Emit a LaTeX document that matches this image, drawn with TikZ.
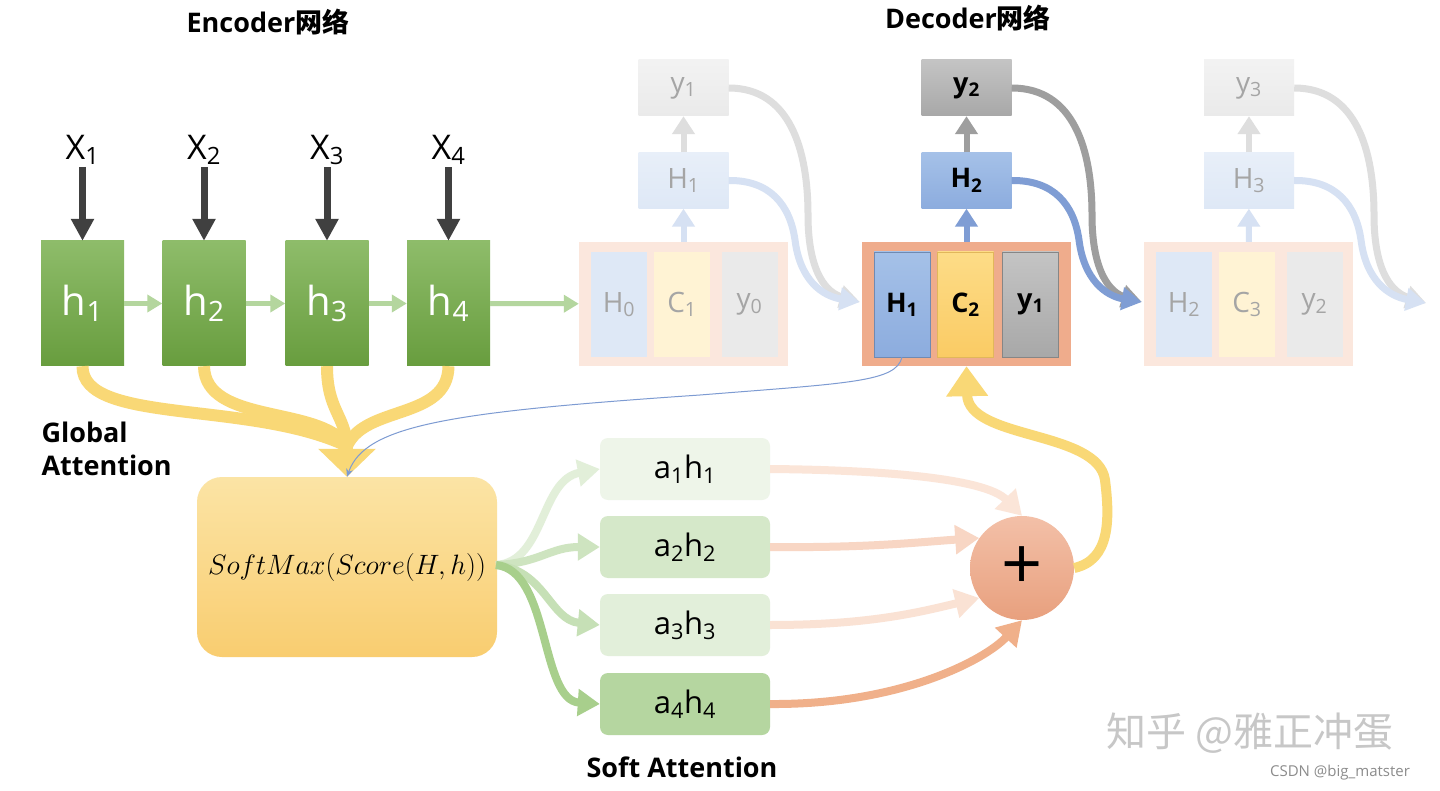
\RequirePackage{fix-cm}
\documentclass[tikz,border=0pt]{standalone}
\usepackage{fontspec}
\setmainfont{Open Sans}
\newfontfamily\cjk{Noto Sans CJK SC}
\usetikzlibrary{arrows.meta}
\definecolor{encTop}{RGB}{142,188,106}
\definecolor{encBot}{RGB}{104,157,62}
\definecolor{darkarr}{RGB}{64,64,64}
\definecolor{chaingreen}{RGB}{180,214,158}
\definecolor{fadetext}{RGB}{165,165,165}
\definecolor{outFade}{RGB}{251,231,221}
\definecolor{outAct}{RGB}{239,172,140}
\definecolor{blueFade}{RGB}{222,232,246}
\definecolor{yellFade}{RGB}{255,243,212}
\definecolor{grayFade}{RGB}{234,234,234}
\definecolor{blueTop}{RGB}{165,193,232}
\definecolor{blueBot}{RGB}{140,172,222}
\definecolor{yellTop}{RGB}{253,220,135}
\definecolor{yellBot}{RGB}{250,203,100}
\definecolor{grayTop}{RGB}{196,196,196}
\definecolor{grayBot}{RGB}{168,168,168}
\definecolor{arrBlueFade}{RGB}{214,225,243}
\definecolor{arrGrayFade}{RGB}{222,222,222}
\definecolor{arrBlue}{RGB}{127,157,212}
\definecolor{arrGray}{RGB}{158,158,158}
\definecolor{gold}{RGB}{249,216,118}
\definecolor{smTop}{RGB}{251,228,165}
\definecolor{smBot}{RGB}{249,205,112}
\definecolor{thinblue}{RGB}{125,155,210}
\definecolor{att1}{RGB}{238,245,233}
\definecolor{att2}{RGB}{213,232,201}
\definecolor{att3}{RGB}{226,239,218}
\definecolor{att4}{RGB}{181,214,160}
\definecolor{g1}{RGB}{226,239,217}
\definecolor{g2}{RGB}{206,228,192}
\definecolor{g3}{RGB}{198,224,182}
\definecolor{g4}{RGB}{168,207,140}
\definecolor{o1}{RGB}{251,229,216}
\definecolor{o2}{RGB}{248,214,196}
\definecolor{o3}{RGB}{250,226,212}
\definecolor{o4}{RGB}{240,176,138}
\definecolor{plusTop}{RGB}{243,192,168}
\definecolor{plusBot}{RGB}{232,160,126}
\tikzset{
  title/.style={font=\bfseries\fontsize{27}{27}\selectfont},
  encbox/.style={rectangle, minimum width=83pt, minimum height=125pt, inner sep=0pt,
    top color=encTop, bottom color=encBot, text=white, font=\fontsize{40}{40}\selectfont},
  xlab/.style={font=\fontsize{34}{34}\selectfont, inner sep=2pt},
  inarrow/.style={draw=darkarr, line width=7pt, -{Triangle[width=22pt,length=22pt]}},
  chainarrow/.style={draw=chaingreen, line width=5pt, -{Triangle[width=17pt,length=15pt]}},
  bigbox/.style={rectangle, minimum width=209pt, minimum height=124pt, inner sep=0pt},
  cell/.style={rectangle, minimum width=56pt, minimum height=105pt, inner sep=0pt,
    font=\fontsize{28}{28}\selectfont},
  upbox/.style={rectangle, minimum width=90pt, minimum height=56pt, inner sep=0pt,
    font=\fontsize{28}{28}\selectfont},
  actfont/.style={font=\bfseries\fontsize{27}{27}\selectfont},
  uparrow/.style={line width=6pt, -{Triangle[width=22pt,length=18pt]}},
  curvearrow/.style={line width=7pt, -{Triangle[width=22pt,length=20pt]}},
  attbox/.style={rectangle, rounded corners=8pt, minimum width=170pt, minimum height=62pt,
    inner sep=0pt, font=\fontsize{31}{31}\selectfont},
  fanarrow/.style={line width=8pt, -{Triangle[width=26pt,length=22pt]}},
  sumarrow/.style={line width=8pt, -{Triangle[width=28pt,length=24pt]}},
  boldlabel/.style={font=\bfseries\fontsize{27}{33}\selectfont},
}
\begin{document}
\begin{tikzpicture}[x=1pt,y=-1pt]
\useasboundingbox[fill=white] (0,0) rectangle (1440,791);

% titles
\node[title] (enct) at (268,22) {Encoder{\cjk 网络}};
\node[title] (dect) at (968,18) {Decoder{\cjk 网络}};

% encoder
\foreach \i/\x in {1/82.5,2/204,3/327,4/448.5}{
  \node[encbox] (h\i) at (\x,303.5) {h\textsubscript{\i}};
  \node[xlab] (x\i) at (\x,150) {X\textsubscript{\i}};
  \draw[inarrow] (x\i) -- (h\i);
}

% decoder step 1 (faded)
\node[bigbox, fill=outFade] (d1) at (683.5,304) {};
\node[cell, fill=blueFade, text=fadetext] (d1a) at (619,304.5) {H\textsubscript{0}};
\node[cell, fill=yellFade, text=fadetext] (d1b) at (682,304.5) {C\textsubscript{1}};
\node[cell, fill=grayFade, text=fadetext] (d1c) at (749.5,304.5) {y\textsubscript{0}};
\node[upbox, top color=blueFade!70!white, bottom color=blueFade, text=fadetext] (u1H) at (683.5,180.5) {H\textsubscript{1}};
\node[upbox, top color=grayFade!60!white, bottom color=grayFade, text=fadetext] (u1y) at (683.5,88) {y\textsubscript{1}};

% decoder step 2 (active)
\node[bigbox, fill=outAct] (d2) at (966.5,304) {};
\node[cell, top color=blueTop, bottom color=blueBot, draw=blueBot!80!black, actfont] (d2a) at (902,304.5) {H\textsubscript{1}};
\node[cell, top color=yellTop, bottom color=yellBot, draw=yellBot!90!black, actfont] (d2b) at (965.5,304.5) {C\textsubscript{2}};
\node[cell, top color=grayTop, bottom color=grayBot, draw=grayBot!80!black, actfont] (d2c) at (1030.5,304.5) {y\textsubscript{1}};
\node[upbox, top color=blueTop, bottom color=blueBot, actfont] (u2H) at (966.5,180.5) {H\textsubscript{2}};
\node[upbox, top color=grayTop, bottom color=grayBot, actfont] (u2y) at (966.5,88) {y\textsubscript{2}};

% decoder step 3 (faded)
\node[bigbox, fill=outFade] (d3) at (1248.5,304) {};
\node[cell, fill=blueFade, text=fadetext] (d3a) at (1184,304.5) {H\textsubscript{2}};
\node[cell, fill=yellFade, text=fadetext] (d3b) at (1247,304.5) {C\textsubscript{3}};
\node[cell, fill=grayFade, text=fadetext] (d3c) at (1314.5,304.5) {y\textsubscript{2}};
\node[upbox, top color=blueFade!70!white, bottom color=blueFade, text=fadetext] (u3H) at (1249,180.5) {H\textsubscript{3}};
\node[upbox, top color=grayFade!60!white, bottom color=grayFade, text=fadetext] (u3y) at (1249,88) {y\textsubscript{3}};
\coordinate (end3) at (1426,303);

% chain arrows
\draw[chainarrow] (h1) -- (h2);
\draw[chainarrow] (h2) -- (h3);
\draw[chainarrow] (h3) -- (h4);
\draw[chainarrow] (h4) -- (d1);

% up arrows
\draw[uparrow, draw=arrBlueFade] (d1) -- (u1H);
\draw[uparrow, draw=arrGrayFade] (u1H) -- (u1y);
\draw[uparrow, draw=arrBlue] (d2) -- (u2H);
\draw[uparrow, draw=arrGray] (u2H) -- (u2y);
\draw[uparrow, draw=arrBlueFade] (d3) -- (u3H);
\draw[uparrow, draw=arrGrayFade] (u3H) -- (u3y);

% recurrent curves
\draw[curvearrow, draw=arrGrayFade] (u1y.east) .. controls (790,88) and (808,150) .. (808,215)
   .. controls (808,275) and (828,293) .. ([xshift=-2pt,yshift=2pt]d2.west);
\draw[curvearrow, draw=arrBlueFade] (u1H.east) .. controls (770,180) and (790,205) .. (795,240)
   .. controls (800,280) and (822,296) .. ([xshift=-2pt,yshift=2pt]d2.west);
\draw[curvearrow, draw=arrGray] (u2y.east) .. controls (1074,88) and (1092,150) .. (1092,215)
   .. controls (1092,275) and (1112,293) .. ([xshift=-2pt,yshift=2pt]d3.west);
\draw[curvearrow, draw=arrBlue] (u2H.east) .. controls (1054,180) and (1074,205) .. (1079,240)
   .. controls (1084,280) and (1106,296) .. ([xshift=-2pt,yshift=2pt]d3.west);
\draw[curvearrow, draw=arrGrayFade] (u3y.east) .. controls (1356,88) and (1374,150) .. (1374,215)
   .. controls (1374,275) and (1394,293) .. (end3);
\draw[curvearrow, draw=arrBlueFade] (u3H.east) .. controls (1336,180) and (1356,205) .. (1361,240)
   .. controls (1366,280) and (1388,296) .. (end3);

% softmax
\node[rectangle, rounded corners=25pt, minimum width=300pt, minimum height=180pt,
  top color=smTop, bottom color=smBot, font=\fontsize{28}{28}\selectfont] (sm) at (347,567)
  {$SoftMax(Score(H,h))$};

% global attention curves
\coordinate (gm) at (347,446);
\draw[gold, line width=12pt] (h1.south) .. controls (82,425) and (250,400) .. (gm);
\draw[gold, line width=12pt] (h2.south) .. controls (205,425) and (320,405) .. (gm);
\draw[gold, line width=12pt] (h3.south) .. controls (327,410) and (345,415) .. (gm);
\draw[gold, line width=12pt] (h4.south) .. controls (448,420) and (365,405) .. (gm);
\draw[gold, line width=12pt, -{Triangle[width=56pt,length=28pt]}] (gm) -- (sm.north);

\node[boldlabel, align=left, anchor=west] (ga) at (38,449) {Global\\Attention};

% thin blue line
\draw[thinblue, line width=1pt, -{Stealth[width=7pt,length=8pt]}] (d2a.south)
   .. controls (896,382) and (850,383) .. (700,395)
   .. controls (450,412) and (365,425) .. (sm.north);

% attention boxes
\node[attbox, fill=att1] (a1) at (685,469) {a\textsubscript{1}h\textsubscript{1}};
\node[attbox, fill=att2] (a2) at (685,547) {a\textsubscript{2}h\textsubscript{2}};
\node[attbox, fill=att3] (a3) at (685,625) {a\textsubscript{3}h\textsubscript{3}};
\node[attbox, fill=att4] (a4) at (685,704) {a\textsubscript{4}h\textsubscript{4}};
\node[boldlabel] (sa) at (682,767) {Soft Attention};

% fan arrows
\coordinate (fo) at (496,565);
\draw[fanarrow, draw=g1] (fo) .. controls (545,562) and (540,480) .. (a1.west);
\draw[fanarrow, draw=g2] (fo) .. controls (540,563) and (550,547) .. (a2.west);
\draw[fanarrow, draw=g3] (fo) .. controls (545,570) and (550,620) .. (a3.west);
\draw[fanarrow, draw=g4] (fo) .. controls (550,570) and (540,700) .. (a4.west);

% plus circle
\node[circle, minimum size=104pt, inner sep=0pt, top color=plusTop, bottom color=plusBot,
  font=\fontsize{72}{72}\selectfont] (plus) at (1022,568) {+};

% sum arrows
\draw[sumarrow, draw=o1] (a1.east) .. controls (880,470) and (985,478) .. (plus.north);
\draw[sumarrow, draw=o2] (a2.east) .. controls (870,548) and (920,542) .. (plus.145);
\draw[sumarrow, draw=o3] (a3.east) .. controls (870,625) and (920,612) .. (plus.215);
\draw[sumarrow, draw=o4] (a4.east) .. controls (900,705) and (985,660) .. (plus.south);

% return arrow
\draw[gold, line width=10pt, -{Triangle[width=40pt,length=30pt]}] (plus.east)
   .. controls (1110,560) and (1110,520) .. (1105,480)
   .. controls (1098,430) and (968,440) .. (d2.south);

% watermark
\node[text=black!22, font=\cjk\fontsize{40}{40}\selectfont] (wm) at (1250,733) {知乎 @雅正冲蛋};
\node[text=black!45, font=\fontsize{15}{15}\selectfont] (csdn) at (1340,773) {CSDN @big\_matster};
\end{tikzpicture}
\end{document}
